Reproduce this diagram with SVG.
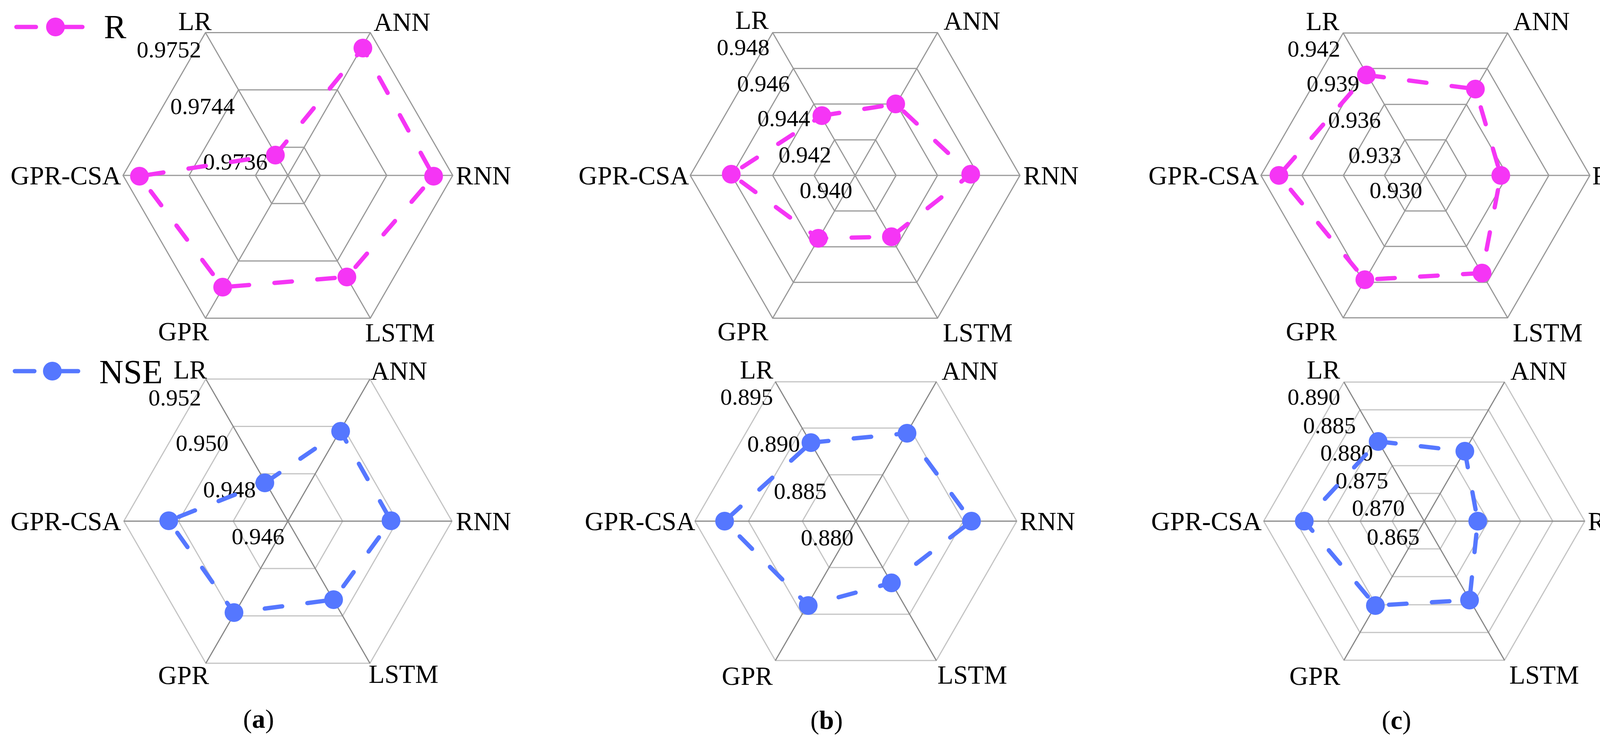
<svg xmlns="http://www.w3.org/2000/svg" xmlns:xlink="http://www.w3.org/1999/xlink" width="4234" height="1907" viewBox="0 0 4234 1907">
<style>
text{font-family:"Liberation Serif","Times New Roman",serif;fill:#000}
.lab{font-size:67px;dominant-baseline:central}
.tick{font-size:60px;dominant-baseline:central;text-anchor:end}
.mid{text-anchor:middle}.end{text-anchor:end}
.ring{fill:none;stroke:#999;stroke-width:3}
.ringL{fill:none;stroke:#c4c4c4;stroke-width:3}
.ax{stroke:#999;stroke-width:3}
.axD{stroke:#888;stroke-width:3}
.r{fill:none;stroke:#F535F5;stroke-width:11;stroke-dasharray:45 65;stroke-linecap:round}
.n{fill:none;stroke:#5577FF;stroke-width:11;stroke-dasharray:45 65;stroke-linecap:round}
.rd{fill:#F535F5}.nd{fill:#5577FF}
.cap{font-size:68px;text-anchor:middle;dominant-baseline:central}
</style>
<defs>
<polygon id="hex" points="1,0 0.5,-0.866 -0.5,-0.866 -1,0 -0.5,0.866 0.5,0.866" vector-effect="non-scaling-stroke"/>
<g id="axes"><line x1="-1" y1="0" x2="1" y2="0" vector-effect="non-scaling-stroke"/><line x1="-0.5" y1="-0.866" x2="0.5" y2="0.866" vector-effect="non-scaling-stroke"/><line x1="0.5" y1="-0.866" x2="-0.5" y2="0.866" vector-effect="non-scaling-stroke"/></g>
</defs>

<g id="legend-R">
<line x1="42" y1="69" x2="92" y2="69" stroke="#F535F5" stroke-width="11" stroke-linecap="round"/>
<line x1="142" y1="69" x2="211" y2="69" stroke="#F535F5" stroke-width="11" stroke-linecap="round"/>
<circle cx="142" cy="69" r="24" class="rd"/>
<text x="266" y="98" font-size="86">R</text>
</g>
<g id="legend-NSE">
<line x1="38" y1="950" x2="88" y2="950" stroke="#5577FF" stroke-width="11" stroke-linecap="round"/>
<line x1="134" y1="950" x2="200" y2="950" stroke="#5577FF" stroke-width="11" stroke-linecap="round"/>
<circle cx="134" cy="950" r="24" class="nd"/>
<text x="254" y="981" font-size="86">NSE</text>
</g>

<g transform="translate(-13,-4)">
<!-- a top -->
<g id="chart-a-R">
<g transform="translate(750,453)">
<use href="#hex" class="ring" transform="scale(83)"/><use href="#hex" class="ring" transform="scale(253)"/><use href="#hex" class="ring" transform="scale(422)"/>
<use href="#axes" class="ax" transform="scale(422)"/>
</g>
<text class="lab mid" x="512" y="58">LR</text><text class="lab mid" x="1042" y="60">ANN</text>
<text class="lab" x="1180" y="453">RNN</text><text class="lab end" x="323" y="453">GPR-CSA</text>
<text class="lab mid" x="483" y="852">GPR</text><text class="lab mid" x="1037" y="855">LSTM</text>
<text class="tick" x="528" y="131">0.9752</text><text class="tick" x="614" y="276">0.9744</text><text class="tick" x="698" y="418">0.9736</text>
</g>
<!-- a bottom -->
<g id="chart-a-NSE">
<g transform="translate(750,1338)">
<use href="#hex" class="ringL" transform="scale(140)"/><use href="#hex" class="ringL" transform="scale(280)"/><use href="#hex" class="ringL" transform="scale(420)"/>
<use href="#axes" class="axD" transform="scale(420)"/>
</g>
<text class="lab mid" x="500" y="950">LR</text><text class="lab mid" x="1034" y="953">ANN</text>
<text class="lab" x="1180" y="1338">RNN</text><text class="lab end" x="323" y="1338">GPR-CSA</text>
<text class="lab mid" x="483" y="1732">GPR</text><text class="lab mid" x="1046" y="1729">LSTM</text>
<text class="tick" x="528" y="1022">0.952</text><text class="tick" x="598" y="1138">0.950</text><text class="tick" x="668" y="1257">0.948</text><text class="tick" x="741" y="1377">0.946</text>
<text class="cap" x="675" y="1844">(<tspan font-weight="bold">a</tspan>)</text>
</g>

<!-- b top -->
<g id="chart-b-R">
<g transform="translate(2202,453)">
<use href="#hex" class="ring" transform="scale(105)"/><use href="#hex" class="ring" transform="scale(211)"/><use href="#hex" class="ring" transform="scale(316)"/><use href="#hex" class="ring" transform="scale(422)"/>
<use href="#axes" class="ax" transform="scale(422)"/>
</g>
<text class="lab mid" x="1938" y="55">LR</text><text class="lab mid" x="2501" y="57">ANN</text>
<text class="lab" x="2633" y="453">RNN</text><text class="lab end" x="1777" y="453">GPR-CSA</text>
<text class="lab mid" x="1915" y="852">GPR</text><text class="lab mid" x="2516" y="855">LSTM</text>
<text class="tick" x="1983" y="125">0.948</text><text class="tick" x="2035" y="218">0.946</text><text class="tick" x="2087" y="307">0.944</text><text class="tick" x="2141" y="400">0.942</text><text class="tick" x="2195" y="491">0.940</text>
</g>
<!-- b bottom -->
<g id="chart-b-NSE">
<g transform="translate(2204,1338)">
<use href="#hex" class="ringL" transform="scale(137)"/><use href="#hex" class="ringL" transform="scale(275)"/><use href="#hex" class="ringL" transform="scale(412)"/>
<use href="#axes" class="axD" transform="scale(412)"/>
</g>
<text class="lab mid" x="1950" y="950">LR</text><text class="lab mid" x="2496" y="953">ANN</text>
<text class="lab" x="2624" y="1338">RNN</text><text class="lab end" x="1793" y="1338">GPR-CSA</text>
<text class="lab mid" x="1926" y="1734">GPR</text><text class="lab mid" x="2502" y="1731">LSTM</text>
<text class="tick" x="1992" y="1020">0.895</text><text class="tick" x="2061" y="1140">0.890</text><text class="tick" x="2129" y="1261">0.885</text><text class="tick" x="2198" y="1380">0.880</text>
<text class="cap" x="2129" y="1847">(<tspan font-weight="bold">b</tspan>)</text>
</g>

<!-- c top -->
<g id="chart-c-R">
<g transform="translate(3662,453)">
<use href="#hex" class="ring" transform="scale(105)"/><use href="#hex" class="ring" transform="scale(210)"/><use href="#hex" class="ring" transform="scale(316)"/><use href="#hex" class="ring" transform="scale(421)"/>
<use href="#axes" class="ax" transform="scale(421)"/>
</g>
<text class="lab mid" x="3399" y="58">LR</text><text class="lab mid" x="3959" y="58">ANN</text>
<text class="lab" x="4089" y="453">RNN</text><text class="lab end" x="3236" y="453">GPR-CSA</text>
<text class="lab mid" x="3370" y="852">GPR</text><text class="lab mid" x="3975" y="855">LSTM</text>
<text class="tick" x="3444" y="129">0.942</text><text class="tick" x="3493" y="218">0.939</text><text class="tick" x="3548" y="311">0.936</text><text class="tick" x="3600" y="401">0.933</text><text class="tick" x="3654" y="491">0.930</text>
</g>
<!-- c bottom -->
<g id="chart-c-NSE">
<g transform="translate(3659,1338)">
<use href="#hex" class="ringL" transform="scale(82)"/><use href="#hex" class="ringL" transform="scale(164)"/><use href="#hex" class="ringL" transform="scale(247)"/><use href="#hex" class="ringL" transform="scale(329)"/><use href="#hex" class="ringL" transform="scale(411)"/>
<use href="#axes" class="axD" transform="scale(411)"/>
</g>
<text class="lab mid" x="3401" y="950">LR</text><text class="lab mid" x="3952" y="953">ANN</text>
<text class="lab" x="4078" y="1338">RNN</text><text class="lab end" x="3243" y="1338">GPR-CSA</text>
<text class="lab mid" x="3379" y="1734">GPR</text><text class="lab mid" x="3966" y="1731">LSTM</text>
<text class="tick" x="3444" y="1020">0.890</text><text class="tick" x="3484" y="1093">0.885</text><text class="tick" x="3528" y="1163">0.880</text><text class="tick" x="3567" y="1234">0.875</text><text class="tick" x="3609" y="1304">0.870</text><text class="tick" x="3647" y="1378">0.865</text>
<text class="cap" x="3588" y="1847">(<tspan font-weight="bold">c</tspan>)</text>
</g>

<g id="connectors">
<polygon class="r" points="718,401 942,127 1123,455 901,713 583,739 370,455"/>
<polygon class="n" points="691,1240 885,1108 1014,1337 867,1539 612,1572 445,1337"/>
<polygon class="r" points="2117,300 2306,270 2498,450 2295,610 2108,614 1885,450"/>
<polygon class="n" points="2089,1137 2335,1113 2500,1338 2295,1496 2082,1554 1868,1338"/>
<polygon class="r" points="3511,196 3790,232 3855,453 3807,703 3507,720 3287,453"/>
<polygon class="n" points="3541,1134 3763,1159 3796,1338 3775,1540 3534,1554 3352,1338"/>
</g>
<g id="markers">
<g class="rd"><circle cx="718" cy="401" r="24"/><circle cx="942" cy="127" r="24"/><circle cx="1123" cy="455" r="24"/><circle cx="901" cy="713" r="24"/><circle cx="583" cy="739" r="24"/><circle cx="370" cy="455" r="24"/>
<circle cx="2117" cy="300" r="24"/><circle cx="2306" cy="270" r="24"/><circle cx="2498" cy="450" r="24"/><circle cx="2295" cy="610" r="24"/><circle cx="2108" cy="614" r="24"/><circle cx="1885" cy="450" r="24"/>
<circle cx="3511" cy="196" r="24"/><circle cx="3790" cy="232" r="24"/><circle cx="3855" cy="453" r="24"/><circle cx="3807" cy="703" r="24"/><circle cx="3507" cy="720" r="24"/><circle cx="3287" cy="453" r="24"/></g>
<g class="nd"><circle cx="691" cy="1240" r="24"/><circle cx="885" cy="1108" r="24"/><circle cx="1014" cy="1337" r="24"/><circle cx="867" cy="1539" r="24"/><circle cx="612" cy="1572" r="24"/><circle cx="445" cy="1337" r="24"/>
<circle cx="2089" cy="1137" r="24"/><circle cx="2335" cy="1113" r="24"/><circle cx="2500" cy="1338" r="24"/><circle cx="2295" cy="1496" r="24"/><circle cx="2082" cy="1554" r="24"/><circle cx="1868" cy="1338" r="24"/>
<circle cx="3541" cy="1134" r="24"/><circle cx="3763" cy="1159" r="24"/><circle cx="3796" cy="1338" r="24"/><circle cx="3775" cy="1540" r="24"/><circle cx="3534" cy="1554" r="24"/><circle cx="3352" cy="1338" r="24"/></g>
</g>
</g>
</svg>
